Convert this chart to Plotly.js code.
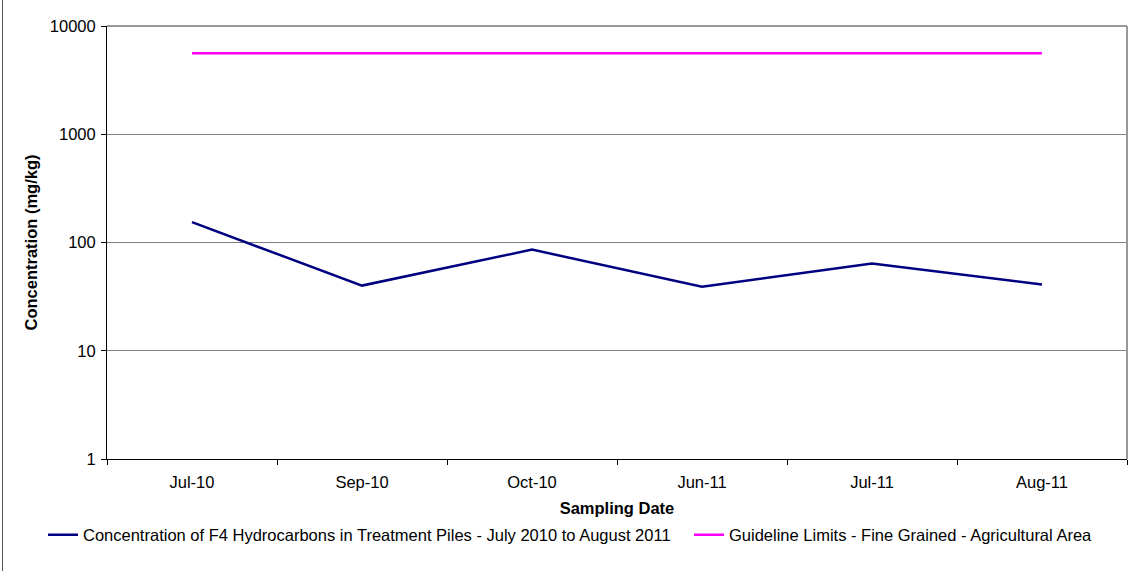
<!DOCTYPE html>
<html>
<head>
<meta charset="utf-8">
<script src="https://cdn.plot.ly/plotly-3.0.1.min.js"></script>
<style>
html,body{margin:0;padding:0;background:#fff;}
#chart{width:1135px;height:571px;position:relative;}
#edge{position:absolute;left:2px;top:0;width:1px;height:571px;background:#555;}
</style>
</head>
<body>
<div id="chart"></div>
<script>
const dates = ["Jul-10", "Sep-10", "Oct-10", "Jun-11", "Jul-11", "Aug-11"];
const f4Concentration = [154, 40, 86, 39, 64, 41];
const guidelineLimit = [5600, 5600, 5600, 5600, 5600, 5600];
const yTickVals = [1, 10, 100, 1000, 10000];
const yTickText = ["1", "10", "100", "1000", "10000"];

const font = "Liberation Sans, Arial, sans-serif";
const fs = 16.5;

const traces = [
  {
    x: dates, y: f4Concentration, type: "scatter", mode: "lines",
    name: "Concentration of F4 Hydrocarbons in Treatment Piles - July 2010 to August 2011",
    line: {color: "#000080", width: 2.5}, legend: "legend"
  },
  {
    x: dates, y: guidelineLimit, type: "scatter", mode: "lines",
    name: "Guideline Limits - Fine Grained - Agricultural Area",
    line: {color: "#ff00ff", width: 2.5}, legend: "legend2"
  }
];

const legendBase = {
  orientation: "h", xref: "container", yref: "container",
  xanchor: "left", y: 1 - 535/571, yanchor: "middle",
  font: {family: font, size: fs, color: "#000"},
  bgcolor: "rgba(0,0,0,0)", itemwidth: 30
};

const layout = {
  width: 1135, height: 571,
  margin: {l: 107, r: 8, t: 26, b: 112},
  paper_bgcolor: "#fff", plot_bgcolor: "#fff",
  font: {family: font, size: fs, color: "#000"},
  showlegend: true,
  legend: Object.assign({}, legendBase, {x: 43 / 1135}),
  legend2: Object.assign({}, legendBase, {x: 689 / 1135}),
  xaxis: {
    type: "category", range: [-0.5, 5.5], tickson: "boundaries", ticks: "outside", ticklen: 5,
    tickcolor: "#000", showline: true, linecolor: "#000", linewidth: 1,
    showgrid: false, zeroline: false, ticklabelstandoff: 8,
    tickfont: {family: font, size: fs},
    title: {text: "<b>Sampling Date</b>", font: {family: font, size: fs}, standoff: 30}
  },
  yaxis: {
    type: "log", range: [0, 4], tickvals: yTickVals, ticktext: yTickText,
    ticks: "outside", ticklen: 5, tickcolor: "#000",
    showline: true, linecolor: "#000", linewidth: 1,
    showgrid: true, gridcolor: "#808080", gridwidth: 1, zeroline: false,
    ticklabelstandoff: 2,
    tickfont: {family: font, size: fs},
    title: {text: "<b>Concentration (mg/kg)</b>", font: {family: font, size: fs}, standoff: 8}
  },
  shapes: [
    {type: "line", xref: "paper", yref: "paper", x0: 1, x1: 1, y0: 0, y1: 1,
     line: {color: "#999", width: 2}},
    {type: "line", xref: "paper", yref: "paper", x0: 0, x1: 1, y0: 1, y1: 1,
     line: {color: "#999", width: 2}}
  ]
};

Plotly.newPlot("chart", traces, layout, {displayModeBar: false, staticPlot: true});
</script>
<div id="edge" style="position:absolute;left:2px;top:0;"></div>
</body>
</html>
